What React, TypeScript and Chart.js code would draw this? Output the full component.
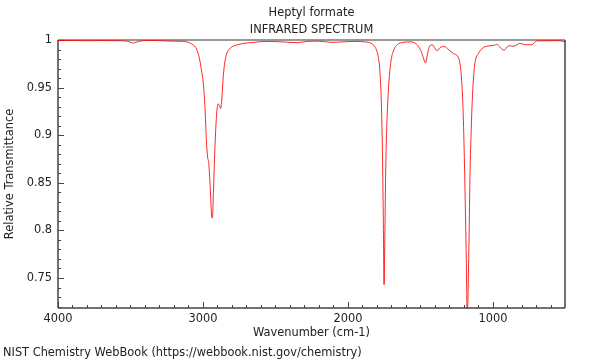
import React, { useEffect, useRef } from "react";
import { Chart, registerables } from "chart.js";

Chart.register(...registerables);

const wavenumbers = [
  4000, 3900, 3800, 3700, 3600, 3540, 3500, 3480, 3460, 3420, 3350, 3250, 3200, 3150, 3110, 3080,
  3050, 3030, 3010, 2995, 2985, 2975, 2968, 2960, 2950, 2940, 2935, 2928, 2918, 2906, 2895, 2887,
  2878, 2870, 2862, 2852, 2838, 2820, 2800, 2760, 2720, 2650, 2570, 2450, 2350, 2280, 2200, 2110,
  2040, 1950, 1880, 1840, 1815, 1795, 1780, 1770, 1762, 1756, 1751, 1746, 1740, 1732, 1722, 1706,
  1688, 1660, 1620, 1570, 1530, 1505, 1490, 1475, 1465, 1455, 1445, 1425, 1410, 1395, 1382, 1365,
  1350, 1330, 1308, 1275, 1240, 1228, 1216, 1205, 1195, 1185, 1177, 1165, 1158, 1150, 1143, 1135,
  1124, 1100, 1067, 1040, 1020, 990, 975, 955, 935, 920, 905, 883, 860, 840, 815, 790,
  765, 735, 715, 700, 650, 600, 540, 503,
];

const transmittance = [
  0.9995, 0.9995, 0.9993, 0.9994, 0.9993, 0.999, 0.9978, 0.9968, 0.9978, 0.9992, 0.9995, 0.999, 0.9988, 0.9987, 0.998, 0.996,
  0.992, 0.984, 0.968, 0.95, 0.925, 0.89, 0.877, 0.87, 0.845, 0.815, 0.813, 0.84, 0.885, 0.922, 0.933, 0.931,
  0.928, 0.938, 0.958, 0.974, 0.985, 0.99, 0.993, 0.995, 0.9965, 0.9975, 0.9985, 0.998, 0.9972, 0.9985, 0.9988, 0.9975,
  0.998, 0.9985, 0.998, 0.9965, 0.993, 0.985, 0.968, 0.935, 0.88, 0.81, 0.743, 0.79, 0.86, 0.91, 0.945, 0.975,
  0.988, 0.995, 0.9975, 0.998, 0.996, 0.991, 0.986, 0.979, 0.976, 0.982, 0.99, 0.995, 0.994, 0.99, 0.989, 0.992,
  0.993, 0.993, 0.99, 0.986, 0.982, 0.976, 0.958, 0.922, 0.86, 0.78, 0.712, 0.79, 0.86, 0.905, 0.935, 0.958,
  0.976, 0.986, 0.992, 0.9935, 0.994, 0.9945, 0.9955, 0.993, 0.99, 0.9895, 0.9925, 0.994, 0.9935, 0.9945, 0.9965, 0.9955,
  0.995, 0.995, 0.997, 0.999, 0.9992, 0.9993, 0.9993, 0.998,
];

const xMajorTicks = [4000, 3000, 2000, 1000];
const xMinorStep = 100;
const yMajorTicks = [1, 0.95, 0.9, 0.85, 0.8, 0.75];
const yMinorStep = 0.01;

const titleText = "Heptyl formate";
const subtitleText = "INFRARED SPECTRUM";
const footerText = "NIST Chemistry WebBook (https://webbook.nist.gov/chemistry)";
const xAxisTitle = "Wavenumber (cm-1)";
const yAxisTitle = "Relative Transmittance";

const X_MIN = 503;
const X_MAX = 4000;
const Y_MIN = 0.7185;
const Y_MAX = 1;

const FONT = "'DejaVu Sans', sans-serif";
const FONT_SIZE = 11.4;
const TEXT_COLOR = "#222";
const AXIS_COLOR = "#444";

const framePlugin = {
  id: "frameAndTicks",
  beforeDatasetsDraw(chart: any) {
    const { ctx, chartArea } = chart;
    const xs = chart.scales.x;
    const ys = chart.scales.y;
    const { left, right, top, bottom } = chartArea;
    ctx.save();
    ctx.strokeStyle = "#999";
    ctx.lineWidth = 2;
    ctx.beginPath();
    ctx.moveTo(left, top);
    ctx.lineTo(right, top);
    ctx.stroke();
    ctx.strokeStyle = AXIS_COLOR;
    ctx.lineWidth = 1.5;
    ctx.beginPath();
    ctx.moveTo(right, top);
    ctx.lineTo(right, bottom);
    ctx.moveTo(left, top);
    ctx.lineTo(left, bottom);
    ctx.moveTo(left, bottom);
    ctx.lineTo(right, bottom);
    ctx.stroke();
    ctx.lineWidth = 1;
    ctx.beginPath();
    for (let v = Math.ceil(X_MIN / xMinorStep) * xMinorStep; v <= X_MAX; v += xMinorStep) {
      const px = Math.round(xs.getPixelForValue(v)) + 0.5;
      const len = xMajorTicks.includes(v) ? 6 : 3;
      ctx.moveTo(px, bottom);
      ctx.lineTo(px, bottom - len);
    }
    const nMinor = Math.round((Y_MAX - Y_MIN) / yMinorStep);
    for (let i = 0; i <= nMinor + 1; i++) {
      const v = +(Y_MAX - i * yMinorStep).toFixed(2);
      if (v < Y_MIN) continue;
      const py = Math.round(ys.getPixelForValue(v)) + 0.5;
      const isMajor = yMajorTicks.some((m) => Math.abs(m - v) < 1e-6);
      const len = isMajor ? 6 : 3;
      ctx.moveTo(left, py);
      ctx.lineTo(left + len, py);
    }
    ctx.stroke();
    ctx.restore();
  },
  afterDraw(chart: any) {
    const { ctx, chartArea } = chart;
    const cx = (chartArea.left + chartArea.right) / 2;
    ctx.save();
    ctx.fillStyle = TEXT_COLOR;
    ctx.font = `${FONT_SIZE}px ${FONT}`;
    ctx.textAlign = "center";
    ctx.textBaseline = "middle";
    ctx.fillText(titleText, cx, 13);
    ctx.fillText(subtitleText, cx, 30);
    ctx.textAlign = "left";
    ctx.fillText(footerText, 3, 353);
    ctx.restore();
  },
};

export default function App() {
  const canvasRef = useRef<HTMLCanvasElement | null>(null);

  useEffect(() => {
    const canvas = canvasRef.current;
    if (!canvas) return;
    const points = wavenumbers.map((w, i) => ({ x: w, y: transmittance[i] }));
    const chart = new Chart(canvas, {
      type: "line",
      data: {
        datasets: [
          {
            data: points,
            borderColor: "rgba(255,0,0,0.85)",
            borderWidth: 1,
            pointRadius: 0,
            fill: false,
            cubicInterpolationMode: "monotone",
          },
        ],
      },
      plugins: [framePlugin],
      options: {
        animation: false,
        responsive: false,
        maintainAspectRatio: false,
        devicePixelRatio: 1,
        layout: { padding: { left: 0, top: 40, right: 35, bottom: 20 } },
        plugins: {
          legend: { display: false },
          tooltip: { enabled: false },
          title: { display: false },
        },
        scales: {
          x: {
            type: "linear",
            reverse: true,
            min: X_MIN,
            max: X_MAX,
            border: { display: false },
            grid: { display: false, drawTicks: false },
            afterBuildTicks: (scale: any) => {
              scale.ticks = xMajorTicks.map((v) => ({ value: v }));
            },
            afterFit: (scale: any) => {
              scale.height = 32;
            },
            ticks: {
              padding: 4,
              maxRotation: 0,
              autoSkip: false,
              color: TEXT_COLOR,
              font: { family: FONT, size: FONT_SIZE },
              callback: (v: any) => String(v),
            },
            title: {
              display: true,
              text: xAxisTitle,
              color: TEXT_COLOR,
              font: { family: FONT, size: FONT_SIZE },
              padding: { top: 0, bottom: 0 },
            },
          },
          y: {
            type: "linear",
            min: Y_MIN,
            max: Y_MAX,
            border: { display: false },
            grid: { display: false, drawTicks: false },
            afterBuildTicks: (scale: any) => {
              scale.ticks = yMajorTicks.map((v) => ({ value: v }));
            },
            afterFit: (scale: any) => {
              scale.width = 58;
            },
            ticks: {
              padding: 6,
              autoSkip: false,
              color: TEXT_COLOR,
              font: { family: FONT, size: FONT_SIZE },
              callback: (v: any) => String(+Number(v).toFixed(2)),
            },
            title: {
              display: true,
              text: yAxisTitle,
              color: TEXT_COLOR,
              font: { family: FONT, size: FONT_SIZE },
              padding: { top: 3, bottom: 0 },
            },
          },
        },
      } as any,
    });
    return () => chart.destroy();
  }, []);

  return (
    <div style={{ position: "fixed", left: 0, top: 0, width: 600, height: 360, background: "#fff" }}>
      <canvas ref={canvasRef} width={600} height={360} style={{ width: 600, height: 360, display: "block" }} />
    </div>
  );
}
